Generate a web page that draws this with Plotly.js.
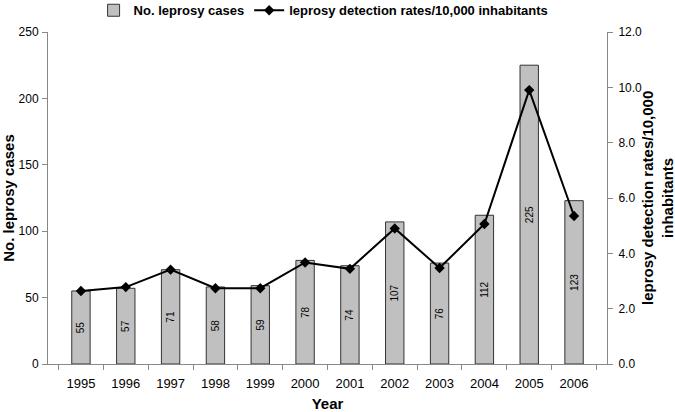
<!DOCTYPE html>
<html>
<head>
<meta charset="utf-8">
<script src="https://cdn.plot.ly/plotly-3.0.1.min.js"></script>
<style>html,body{margin:0;padding:0;background:#fff;}#chart{width:675px;height:412px;}</style>
</head>
<body>
<div id="chart"></div>
<script>
var years = ['1995','1996','1997','1998','1999','2000','2001','2002','2003','2004','2005','2006'];
var cases = [55, 57, 71, 58, 59, 78, 74, 107, 76, 112, 225, 123];
var rates = [2.64, 2.78, 3.41, 2.74, 2.74, 3.67, 3.44, 4.9, 3.47, 5.06, 9.9, 5.35];
var leftTicks = [0, 50, 100, 150, 200, 250];
var rightTicks = [0, 2, 4, 6, 8, 10, 12];

var font = 'Liberation Sans, Arial, sans-serif';
var data = [
  {
    type: 'bar', x: years, y: cases, name: 'No. leprosy cases',
    text: cases.map(String), textposition: 'inside', insidetextanchor: 'middle',
    textangle: -90, textfont: {family: font, size: 10, color: '#000'},
    marker: {color: '#c0c0c0', line: {color: '#333', width: 1}},
    width: 0.41, yaxis: 'y', hoverinfo: 'none'
  },
  {
    type: 'scatter', mode: 'lines+markers', x: years, y: rates,
    name: 'leprosy detection rates/10,000 inhabitants',
    line: {color: '#000', width: 2},
    marker: {symbol: 'diamond', size: 8, color: '#000'},
    yaxis: 'y2', hoverinfo: 'none'
  }
];
var layout = {
  width: 675, height: 412,
  margin: {l: 48, r: 68, t: 32, b: 48, autoexpand: false},
  paper_bgcolor: '#fff', plot_bgcolor: '#fff',
  font: {family: font, size: 12, color: '#000'},
  showlegend: true,
  legend: {orientation: 'h', x: 0.493, xanchor: 'center', xref: 'paper',
           y: 0.975, yanchor: 'middle', yref: 'container',
           font: {family: font, size: 13, color: '#000', weight: 'bold'}, itemwidth: 30, tracegroupgap: 0},
  xaxis: {
    type: 'category', showline: true, linecolor: '#888', linewidth: 1,
    ticks: 'outside', tickson: 'boundaries', ticklen: 5, tickcolor: '#888',
    showgrid: false, tickfont: {size: 13}, ticklabelstandoff: 7,
    title: {text: '<b>Year</b>', font: {size: 15}, standoff: 10}
  },
  yaxis: {
    range: [0, 250], tickvals: leftTicks, ticktext: leftTicks.map(String),
    showline: true, linecolor: '#888', linewidth: 1, ticks: 'outside', ticklen: 5, tickcolor: '#888',
    showgrid: false, zeroline: false, tickfont: {size: 12}, ticklabelstandoff: 1,
    title: {text: '<b>No. leprosy cases</b>', font: {size: 15}, standoff: 8}
  },
  yaxis2: {
    range: [0, 12], overlaying: 'y', side: 'right',
    tickvals: rightTicks, ticktext: rightTicks.map(function(v){return v.toFixed(1);}),
    showline: true, linecolor: '#888', linewidth: 1, ticks: 'outside', ticklen: 5, tickcolor: '#888',
    showgrid: false, zeroline: false, tickfont: {size: 12}, ticklabelstandoff: 3
  },
  annotations: [{
    text: '<b>leprosy detection rates/10,000<br>inhabitants</b>',
    xref: 'paper', yref: 'paper', x: 1, y: 0.5, xshift: 50,
    xanchor: 'center', yanchor: 'middle', textangle: -90, showarrow: false,
    font: {family: font, size: 15, color: '#000'}
  }]
};
Plotly.newPlot('chart', data, layout, {staticPlot: true, displayModeBar: false});
</script>
</body>
</html>
